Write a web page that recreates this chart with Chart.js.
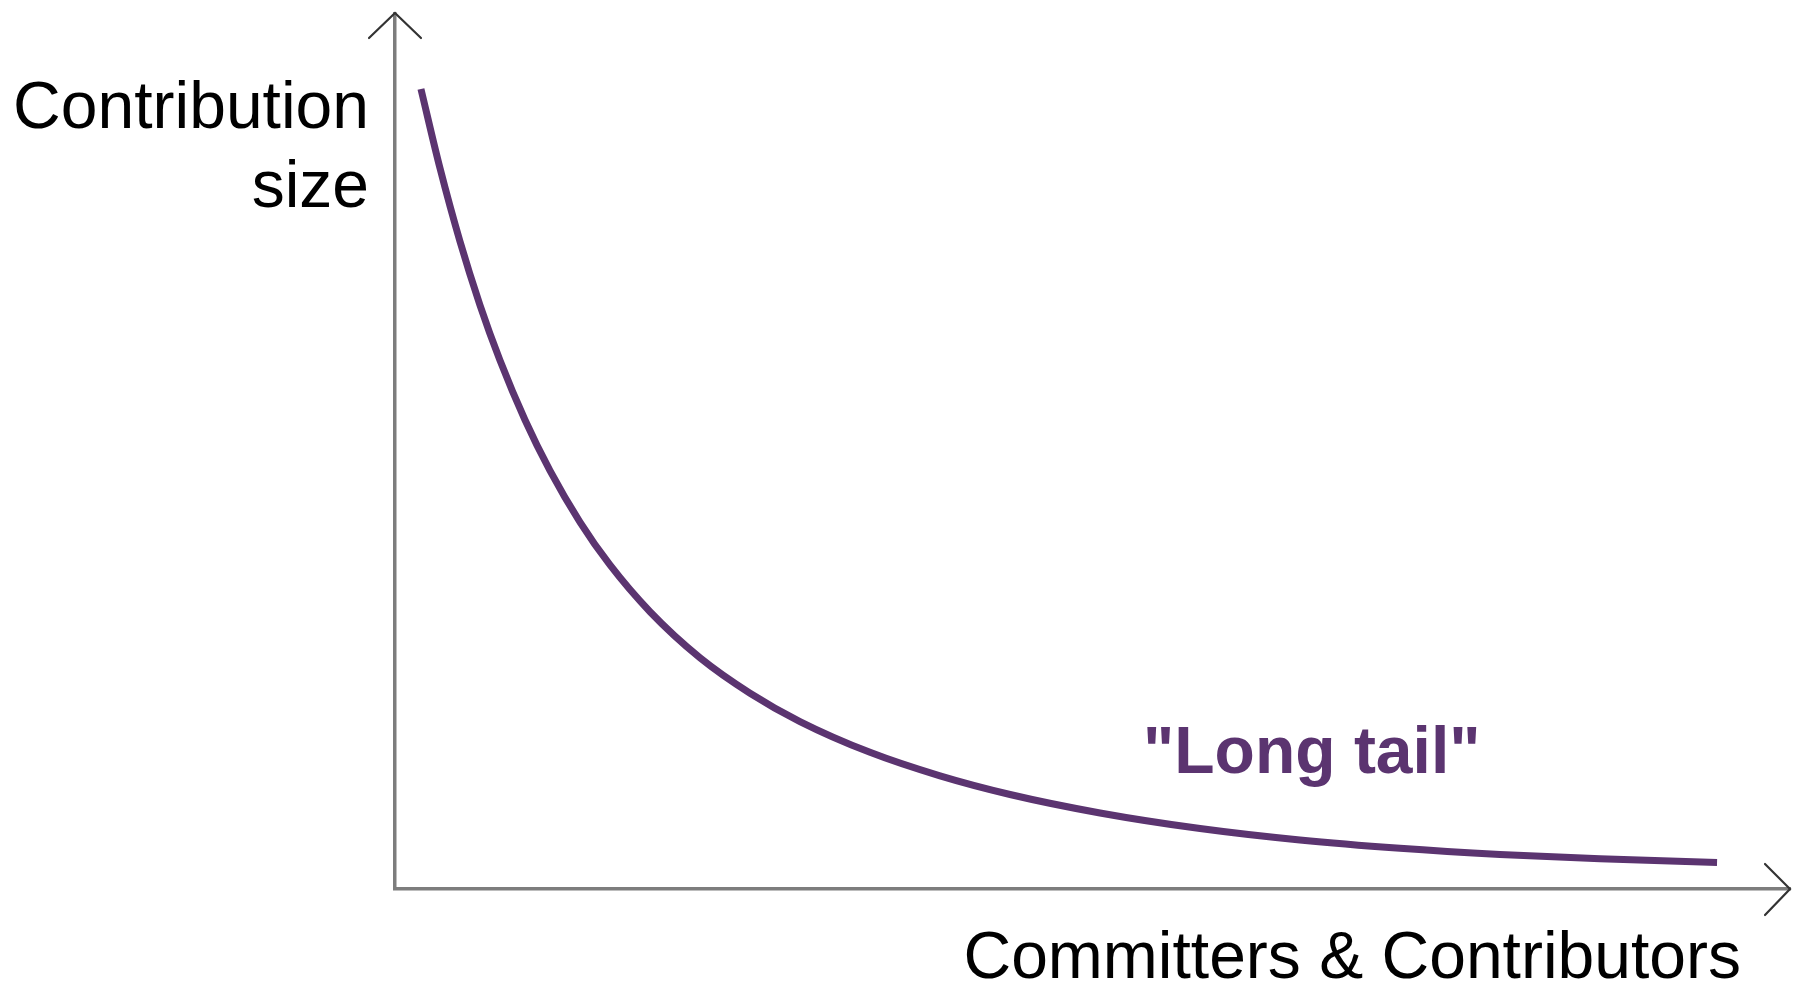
<!DOCTYPE html>
<html>
<head>
<meta charset="utf-8">
<script src="https://cdn.jsdelivr.net/npm/chart.js@4/dist/chart.umd.min.js"></script>
<style>
  html, body { margin: 0; padding: 0; background: #fff; }
  #wrap { width: 1794px; height: 987px; position: relative; }
</style>
</head>
<body>
<div id="wrap"><canvas id="chart"></canvas></div>
<script>
// rank of committer (0..100) vs. contribution size (0..100)
const rank = [1.86, 3.23, 4.66, 6.09, 7.53, 9.32, 11.11, 13.26, 15.41, 18.28, 21.86, 25.45,
              29.03, 34.05, 39.07, 44.09, 50.54, 57.71, 64.87, 72.04, 79.21, 86.38, 94.77];
const size = [91.43, 82.35, 74.00, 66.74, 60.40, 53.60, 47.82, 41.94, 37.03, 31.69, 26.43, 22.38,
              19.14, 15.62, 12.93, 10.80, 8.69, 6.91, 5.60, 4.65, 3.95, 3.45, 3.04];

const yTitle = ['Contribution', 'size'];
const xTitle = 'Committers & Contributors';
const tailLabel = '"Long tail"';

const PURPLE = '#5b3470';
const AXIS = '#7d7d7d';
const FONT = '"Liberation Sans", Arial, Helvetica, sans-serif';

const points = rank.map((x, i) => ({ x: x, y: size[i] }));

// axis arrows + horizontal labels (Chart.js would rotate the y title)
const decorations = {
  id: 'decorations',
  afterDraw(chart) {
    const ctx = chart.ctx;
    const a = chart.chartArea;
    ctx.save();

    // arrow heads
    ctx.strokeStyle = '#333';
    ctx.lineWidth = 2.2;
    ctx.lineCap = 'round';
    ctx.beginPath();
    ctx.moveTo(a.left - 26, a.top + 24);
    ctx.lineTo(a.left, a.top - 1);
    ctx.lineTo(a.left + 26, a.top + 24);
    ctx.stroke();
    ctx.beginPath();
    ctx.moveTo(a.right - 25, a.bottom - 25);
    ctx.lineTo(a.right, a.bottom);
    ctx.lineTo(a.right - 25, a.bottom + 26);
    ctx.stroke();

    // y title, right aligned next to the axis
    ctx.fillStyle = '#000';
    ctx.font = '66px ' + FONT;
    ctx.textAlign = 'right';
    ctx.textBaseline = 'alphabetic';
    ctx.fillText(yTitle[0], a.left - 26, 128);
    ctx.fillText(yTitle[1], a.left - 26, 207);

    // x title under the axis
    ctx.fillText(xTitle, 1741, a.bottom + 89);

    // annotation
    ctx.fillStyle = PURPLE;
    ctx.font = 'bold 66px ' + FONT;
    ctx.textAlign = 'left';
    ctx.fillText(tailLabel, 1143, 773);

    ctx.restore();
  }
};

new Chart(document.getElementById('chart'), {
  type: 'line',
  data: {
    datasets: [{
      data: points,
      borderColor: PURPLE,
      borderWidth: 7,
      borderCapStyle: 'butt',
      cubicInterpolationMode: 'monotone',
      pointRadius: 0,
      fill: false
    }]
  },
  options: {
    responsive: true,
    maintainAspectRatio: false,
    animation: false,
    layout: { padding: { left: 395, top: 14, right: 4, bottom: 98 } },
    plugins: {
      legend: { display: false },
      tooltip: { enabled: false }
    },
    scales: {
      x: {
        type: 'linear',
        min: 0,
        max: 100,
        grid: { display: false, drawTicks: false },
        ticks: { display: false },
        border: { display: true, color: AXIS, width: 3.5 }
      },
      y: {
        min: 0,
        max: 100,
        grid: { display: false, drawTicks: false },
        ticks: { display: false },
        border: { display: true, color: AXIS, width: 3.5 }
      }
    }
  },
  plugins: [decorations]
});
</script>
</body>
</html>
